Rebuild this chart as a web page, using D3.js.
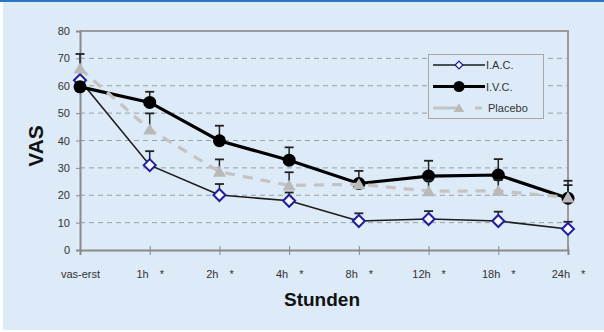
<!DOCTYPE html>
<html>
<head>
<meta charset="utf-8">
<script src="https://cdn.jsdelivr.net/npm/d3@7"></script>
<style>
  html, body { margin: 0; padding: 0; background: #ffffff; }
  svg { display: block; font-family: "Liberation Sans", Arial, sans-serif; }
</style>
</head>
<body>
<svg id="chart" width="604" height="332"></svg>
<script>
// Time points after start and significance markers
const categories = ["vas-erst", "1h", "2h", "4h", "8h", "12h", "18h", "24h"];
const sigMarks   = ["", "*", "*", "*", "*", "*", "*", "*"];

// Mean VAS and upper error (SD) per group
const iacValues     = [62, 31, 20.1, 18, 10.6, 11.3, 10.6, 7.7];
const iacErrors     = [0, 5.1, 4, 3, 2.8, 2.9, 3.4, 2.6];
const ivcValues     = [59.6, 53.9, 39.9, 32.8, 24.3, 27, 27.4, 18.9];
const ivcErrors     = [0, 3.9, 5.5, 4.7, 4.6, 5.6, 5.8, 6.4];
const placeboValues = [66.3, 44, 28.6, 23.6, 24, 21.5, 21.6, 19.2];
const placeboErrors = [5.3, 5.9, 4.5, 4.8, 0, 4, 4, 4.5];

const yTicks = [0, 10, 20, 30, 40, 50, 60, 70, 80];
const seriesNames = ["I.A.C.", "I.V.C.", "Placebo"];

const svg = d3.select("#chart");

// Panel background
svg.append("rect").attr("x", 3).attr("y", 0).attr("width", 601).attr("height", 330)
  .attr("fill", "#ddeaf7");
svg.append("rect").attr("x", 0).attr("y", 0).attr("width", 604).attr("height", 2)
  .attr("fill", "#2a76c4");

const plot = { left: 80, right: 568, top: 31, bottom: 250 };

const x = d3.scalePoint().domain(categories).range([plot.left, plot.right]).padding(0);
const y = d3.scaleLinear().domain([0, 80]).range([plot.bottom, plot.top]);

// Dashed gridlines
svg.append("g")
  .selectAll("line")
  .data(yTicks.filter(t => t > 0 && t < 80))
  .join("line")
  .attr("x1", plot.left).attr("x2", plot.right)
  .attr("y1", d => y(d)).attr("y2", d => y(d))
  .attr("stroke", "#9a9fa6").attr("stroke-width", 1)
  .attr("stroke-dasharray", "5,4");

// Frame (top and right)
svg.append("path")
  .attr("d", `M${plot.left},${plot.top}H${plot.right}V${plot.bottom}`)
  .attr("fill", "none").attr("stroke", "#9c9c9c").attr("stroke-width", 2);

// Y axis
const yAxis = svg.append("g")
  .attr("transform", `translate(${plot.left},0)`)
  .call(d3.axisLeft(y).tickValues(yTicks).tickSize(4).tickPadding(6));
yAxis.select(".domain").attr("stroke", "#8a8a8a").attr("stroke-width", 2);
yAxis.selectAll(".tick line").attr("stroke", "#8a8a8a").attr("stroke-width", 1);
yAxis.selectAll(".tick text").attr("font-size", 11).attr("fill", "#333")
  .attr("font-family", "Liberation Sans, Arial, sans-serif");

// X axis
const xAxis = svg.append("g")
  .attr("transform", `translate(0,${plot.bottom})`)
  .call(d3.axisBottom(x).tickSize(5).tickPadding(15));
xAxis.select(".domain").attr("stroke", "#8a8a8a").attr("stroke-width", 2);
xAxis.selectAll(".tick line").attr("stroke", "#8a8a8a").attr("y1", -4);
xAxis.selectAll(".tick text")
  .attr("font-size", 11).attr("fill", "#333")
  .attr("font-family", "Liberation Sans, Arial, sans-serif")
  .each(function(d, i) {
    const mark = sigMarks[categories.indexOf(d)];
    if (mark) {
      d3.select(this).append("tspan").attr("dx", 11).text(mark);
    }
  });

// Axis titles
svg.append("text")
  .attr("x", 322).attr("y", 306)
  .attr("text-anchor", "middle")
  .attr("font-size", 19).attr("font-weight", "bold").attr("fill", "#111")
  .text("Stunden");
svg.append("text")
  .attr("transform", "translate(43,146) rotate(-90)")
  .attr("text-anchor", "middle")
  .attr("font-size", 21).attr("font-weight", "bold").attr("fill", "#111")
  .text("VAS");

// Series definitions
const triangle = "M0,-6L6.5,5L-6.5,5Z";
const diamond = "M0,-6L6,0L0,6L-6,0Z";

const series = [
  { name: seriesNames[0], values: iacValues, errors: iacErrors,
    line: { stroke: "#1b1b1b", width: 1.6, dash: null } },
  { name: seriesNames[1], values: ivcValues, errors: ivcErrors,
    line: { stroke: "#000", width: 3.2, dash: null } },
  { name: seriesNames[2], values: placeboValues, errors: placeboErrors,
    line: { stroke: "#c3c3c3", width: 3.2, dash: "10,8" } }
];

function drawMarker(sel, idx) {
  if (idx === 0) {
    sel.append("path").attr("d", diamond)
      .attr("fill", "#f6f9fd").attr("stroke", "#1e1e9e").attr("stroke-width", 2);
  } else if (idx === 1) {
    sel.append("circle").attr("r", 6.5).attr("fill", "#000");
  } else {
    sel.append("path").attr("d", triangle).attr("fill", "#b9b9b9");
  }
}

const line = d3.line()
  .x((d, i) => x(categories[i]))
  .y(d => y(d));

series.forEach((s, si) => {
  const g = svg.append("g");
  // upper error bars
  const eb = g.append("g");
  s.values.forEach((v, i) => {
    const e = s.errors[i];
    if (!e) return;
    const cx = x(categories[i]);
    eb.append("line").attr("x1", cx).attr("x2", cx)
      .attr("y1", y(v)).attr("y2", y(v + e))
      .attr("stroke", "#222").attr("stroke-width", 1.5);
    eb.append("line").attr("x1", cx - 4.5).attr("x2", cx + 4.5)
      .attr("y1", y(v + e)).attr("y2", y(v + e))
      .attr("stroke", "#222").attr("stroke-width", 1.8);
  });
  g.append("path").datum(s.values).attr("d", line)
    .attr("fill", "none").attr("stroke", s.line.stroke)
    .attr("stroke-width", s.line.width)
    .attr("stroke-dasharray", s.line.dash);
  s.values.forEach((v, i) => {
    const m = g.append("g").attr("transform", `translate(${x(categories[i])},${y(v)})`);
    drawMarker(m, si);
  });
});

// Legend
const legend = svg.append("g").attr("transform", "translate(428,54)");
legend.append("rect").attr("x", 0.5).attr("y", 0.5).attr("width", 115).attr("height", 64)
  .attr("fill", "#ddeaf7").attr("stroke", "#a8a8a8").attr("stroke-width", 1);
series.forEach((s, si) => {
  const row = legend.append("g").attr("transform", `translate(0,${11 + si * 21.5})`);
  if (si === 2) {
    row.append("line").attr("x1", 5).attr("x2", 57).attr("y1", 0).attr("y2", 0)
      .attr("stroke", s.line.stroke).attr("stroke-width", 3)
      .attr("stroke-dasharray", "26,16,7,10");
  } else {
    row.append("line").attr("x1", 5).attr("x2", 57).attr("y1", 0).attr("y2", 0)
      .attr("stroke", s.line.stroke).attr("stroke-width", s.line.width);
  }
  const m = row.append("g").attr("transform", `translate(31,0)${si === 0 ? " scale(0.65)" : si === 1 ? " scale(0.85)" : " scale(0.8)"}`);
  drawMarker(m, si);
  row.append("text").attr("x", si === 2 ? 60 : 58).attr("y", 4)
    .attr("font-size", 11).attr("fill", "#333")
    .text(s.name);
});
</script>
</body>
</html>
